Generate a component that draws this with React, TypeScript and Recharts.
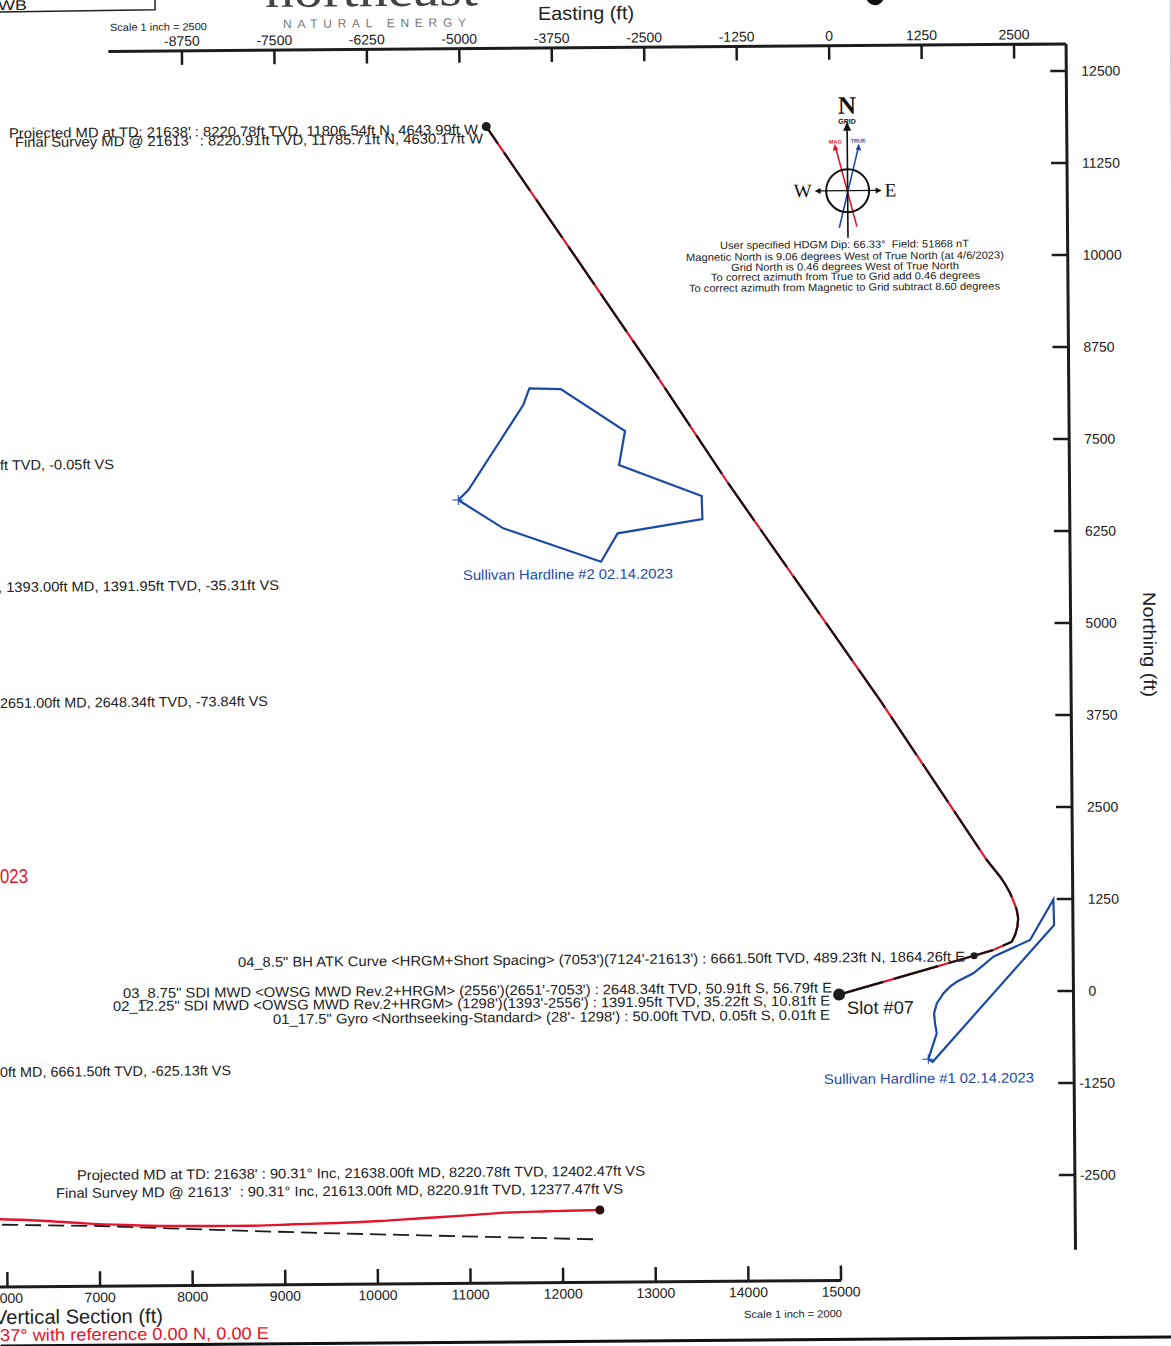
import { ComposedChart, Line, XAxis, YAxis } from "recharts";

// easting / northing ticks (ft)
const eastingTicks = [-8750, -7500, -6250, -5000, -3750, -2500, -1250, 0, 1250, 2500];
const northingTicks = [12500, 11250, 10000, 8750, 7500, 6250, 5000, 3750, 2500, 1250, 0, -1250, -2500];
const sectionTicks = [6000, 7000, 8000, 9000, 10000, 11000, 12000, 13000, 14000, 15000];

// plan view, values
const wellPlan = [
  { e: 35, n: -25 },
  { e: 1864.26, n: 489.23 },
  { e: 2125, n: 565 },
  { e: 2375, n: 675 },
  { e: 2420, n: 766 },
  { e: 2453, n: 879 },
  { e: 2464, n: 993 },
  { e: 2446, n: 1106 },
  { e: 2401, n: 1232 },
  { e: 2357, n: 1337 },
  { e: 2290, n: 1461 },
  { e: 2224, n: 1560 },
  { e: 2134, n: 1675 },
  { e: 2046, n: 1788 },
  { e: 619, n: 3973 },
  { e: -1413, n: 6938 },
  { e: -2415, n: 8481 },
  { e: -4630.17, n: 11785.71 },
  { e: -4643.99, n: 11806.54 },
];
const planMarkers = [
  { e: -4643.99, n: 11806.54, r: 4.5 },
  { e: 1864.26, n: 489.23, r: 3.5 },
  { e: 35, n: -25, r: 6 },
];
const hardline2 = [
  { e: -5061, n: 6735 },
  { e: -4924, n: 6870 },
  { e: -4173, n: 8019 },
  { e: -4089, n: 8246 },
  { e: -3664, n: 8232 },
  { e: -2800, n: 7655 },
  { e: -2884, n: 7194 },
  { e: -1770, n: 6764 },
  { e: -1763, n: 6451 },
  { e: -2910, n: 6266 },
  { e: -3138, n: 5882 },
  { e: -4455, n: 6346 },
  { e: -5061, n: 6735 },
];
const hardline1 = [
  { e: 1234, n: -913 },
  { e: 1351, n: -561 },
  { e: 1329, n: -425 },
  { e: 1317, n: -290 },
  { e: 1355, n: -154 },
  { e: 1445, n: -19 },
  { e: 1536, n: 71 },
  { e: 1627, n: 137 },
  { e: 1852, n: 250 },
  { e: 1989, n: 361 },
  { e: 2124, n: 474 },
  { e: 2623, n: 697 },
  { e: 2942, n: 1247 },
  { e: 2949, n: 898 },
  { e: 1294, n: -947 },
  { e: 1234, n: -913 },
];
const hardlineStarts = [
  { e: -5061, n: 6735 },
  { e: 1234, n: -913 },
];

// section view
const actualSection = [
  { vs: 5700, tvd: 8262 },
  { vs: 5925, tvd: 8270 },
  { vs: 6379, tvd: 8289 },
  { vs: 6833, tvd: 8321 },
  { vs: 7286, tvd: 8343 },
  { vs: 7740, tvd: 8357 },
  { vs: 8193, tvd: 8360 },
  { vs: 8647, tvd: 8361 },
  { vs: 9111, tvd: 8349 },
  { vs: 9565, tvd: 8338 },
  { vs: 10018, tvd: 8321 },
  { vs: 10470, tvd: 8295 },
  { vs: 10926, tvd: 8270 },
  { vs: 11380, tvd: 8241 },
  { vs: 11834, tvd: 8230 },
  { vs: 12377.47, tvd: 8220.91 },
  { vs: 12402.47, tvd: 8220.78 },
];
const planSection = [
  { vs: 5700, tvd: 8320 },
  { vs: 5925, tvd: 8329 },
  { vs: 7016, tvd: 8351 },
  { vs: 7740, tvd: 8382 },
  { vs: 8647, tvd: 8418 },
  { vs: 9565, tvd: 8451 },
  { vs: 10470, tvd: 8479 },
  { vs: 11380, tvd: 8507 },
  { vs: 12329, tvd: 8536 },
];
const sectionEnd = [{ vs: 12402.47, tvd: 8220.78 }];

const INK = "#1c1c1c";
const BLUE = "#1b4aa6";
const RED = "#e2152d";
const FONT = "'Liberation Sans', Arial, sans-serif";
const SERIF = "'Liberation Serif', serif";

// the page is a slightly crooked scan
const TILT = 0.0078;

const unTilt = (x: number, y: number) => ({ x: x - TILT * y, y: y + TILT * x });

// x, y are where the text starts on the page; w is its width
const Note = ({ x, y, w, size = 14, color = "#222", adjust = "spacingAndGlyphs", children }: any) => {
  const p = unTilt(x, y);
  return (
    <text x={p.x} y={p.y} textLength={w} lengthAdjust={adjust} fontSize={size} fill={color} fontFamily={FONT} style={{ whiteSpace: "pre" }}>
      {children}
    </text>
  );
};

const TopTick = ({ x, y, payload }: any) => (
  <g>
    <line x1={x} x2={x} y1={y} y2={y + 14} stroke={INK} strokeWidth={2.5} />
    <text x={x} y={y - 5} textAnchor="middle" fontSize={14} fill="#222" fontFamily={FONT}>
      {payload.value}
    </text>
  </g>
);

const RightTick = ({ x, y, payload }: any) => (
  <g>
    <line x1={x - 16} x2={x} y1={y} y2={y} stroke={INK} strokeWidth={2.5} />
    <text x={x + (payload.value < 0 ? 5 : 15)} y={y + 5} fontSize={14} fill="#222" fontFamily={FONT}>
      {payload.value}
    </text>
  </g>
);

const BottomTick = ({ x, y, payload }: any) => (
  <g>
    <line x1={x} x2={x} y1={y - 15} y2={y} stroke={INK} strokeWidth={2.5} />
    <text x={x} y={y + 16} textAnchor="middle" fontSize={14} fill="#222" fontFamily={FONT}>
      {payload.value}
    </text>
  </g>
);

const Cross = ({ cx, cy }: any) => (
  <g key={cx} stroke={BLUE} strokeWidth={1}>
    <line x1={cx - 6} x2={cx + 5} y1={cy} y2={cy} />
    <line x1={cx} x2={cx} y1={cy - 5} y2={cy + 5} />
  </g>
);

const Compass = () => {
  const p = unTilt(847.6, 190.7);
  return (
    <g transform={`translate(${p.x} ${p.y})`} fontFamily={FONT}>
      <text y={-77} textAnchor="middle" fontSize={25} fontWeight="bold" fontFamily={SERIF} fill="#111">N</text>
      <text y={-67} textAnchor="middle" fontSize={7} fontWeight="bold" fill="#111">GRID</text>
      <text x={-12} y={-47} textAnchor="middle" fontSize={5.5} fontWeight="bold" fill={RED}>MAG</text>
      <text x={11} y={-48} textAnchor="middle" fontSize={5.5} fontWeight="bold" fill={BLUE}>TRUE</text>
      <text x={-45} y={6} textAnchor="middle" fontSize={19} fontFamily={SERIF} fill="#111">W</text>
      <text x={43} y={6} textAnchor="middle" fontSize={19} fontFamily={SERIF} fill="#111">E</text>
      <line x1={-11.6} y1={-43} x2={9} y2={36} stroke={RED} strokeWidth={1.6} />
      <polygon points="-12.5,-47 -14.5,-40 -9,-41" fill={RED} />
      <line x1={11} y1={-43} x2={-8.6} y2={37} stroke={BLUE} strokeWidth={1.6} />
      <polygon points="11.5,-47 8.5,-41 14,-40" fill={BLUE} />
      <line x1={0} y1={-63} x2={0} y2={47} stroke="#111" strokeWidth={1.6} />
      <polygon points="0,-69 -4,-60 4,-60" fill="#111" />
      <line x1={-29} y1={0} x2={30} y2={0} stroke="#111" strokeWidth={1.2} />
      <polygon points="-33,0 -27,-3 -27,3" fill="#111" />
      <polygon points="34,0 28,-3 28,3" fill="#111" />
      <circle r={21.5} fill="none" stroke="#111" strokeWidth={2} />
    </g>
  );
};

const App = () => (
  <div style={{ position: "absolute", left: 0, top: 0, width: 1171, height: 1346, overflow: "hidden", background: "#fff" }}>
    <div style={{ position: "absolute", left: 0, top: 0, width: 1171, height: 1346, transformOrigin: "0 0", transform: "rotate(-0.447deg)" }}>
      {/* plan view */}
      <div style={{ position: "absolute", left: 0, top: 0 }}>
        <ComposedChart width={1171} height={1346} margin={{ top: 12, right: 55.3, bottom: 88, left: 108 }}>
          <XAxis
            xAxisId="e"
            type="number"
            dataKey="e"
            orientation="top"
            height={40.3}
            domain={[-9744, 3204]}
            allowDataOverflow
            ticks={eastingTicks}
            interval={0}
            tick={TopTick}
            tickSize={0}
            tickMargin={0}
            tickLine={false}
            axisLine={{ stroke: INK, strokeWidth: 3 }}
          />
          <YAxis
            yAxisId="n"
            type="number"
            orientation="right"
            width={50}
            domain={[-3515, 12867]}
            allowDataOverflow
            ticks={northingTicks}
            interval={0}
            tick={RightTick}
            tickSize={0}
            tickMargin={0}
            tickLine={false}
            axisLine={{ stroke: INK, strokeWidth: 3 }}
          />
          <Line xAxisId="e" yAxisId="n" data={hardline2} dataKey="n" type="linear" stroke={BLUE} strokeWidth={2.2} dot={false} isAnimationActive={false} />
          <Line xAxisId="e" yAxisId="n" data={hardline1} dataKey="n" type="linear" stroke={BLUE} strokeWidth={2.2} dot={false} isAnimationActive={false} />
          <Line xAxisId="e" yAxisId="n" data={hardlineStarts} dataKey="n" stroke="none" dot={Cross} isAnimationActive={false} />
          <Line xAxisId="e" yAxisId="n" data={wellPlan} dataKey="n" type="linear" stroke={RED} strokeWidth={2.2} dot={false} isAnimationActive={false} />
          <Line xAxisId="e" yAxisId="n" data={wellPlan} dataKey="n" type="linear" stroke="#141414" strokeWidth={2.2} strokeDasharray="46 11" dot={false} isAnimationActive={false} />
          <Line
            xAxisId="e"
            yAxisId="n"
            data={planMarkers}
            dataKey="n"
            stroke="none"
            dot={({ cx, cy, payload }: any) => <circle key={payload.e} cx={cx} cy={cy} r={payload.r} fill="#1c1c1c" />}
            isAnimationActive={false}
          />
        </ComposedChart>
      </div>

      {/* section view */}
      <div style={{ position: "absolute", left: -40, top: 1150 }}>
        <ComposedChart width={911} height={177} margin={{ top: 0, right: 40, bottom: 0, left: 0 }}>
          <XAxis
            type="number"
            dataKey="vs"
            height={40}
            domain={[5596, 15000]}
            allowDataOverflow
            ticks={sectionTicks}
            interval={0}
            tick={BottomTick}
            tickSize={0}
            tickMargin={0}
            tickLine={false}
            axisLine={{ stroke: INK, strokeWidth: 3 }}
          />
          <YAxis hide type="number" reversed domain={[7522, 9002]} allowDataOverflow />
          <Line data={planSection} dataKey="tvd" type="linear" stroke="#1c1c1c" strokeWidth={1.8} strokeDasharray="16 7" dot={false} isAnimationActive={false} />
          <Line data={actualSection} dataKey="tvd" type="monotone" stroke={RED} strokeWidth={2.4} dot={false} isAnimationActive={false} />
          <Line data={sectionEnd} dataKey="tvd" stroke="none" dot={{ r: 4, fill: "#2a0a0a", stroke: "#2a0a0a" }} isAnimationActive={false} />
        </ComposedChart>
      </div>

      {/* annotations */}
      <svg width={1171} height={1346} style={{ position: "absolute", left: 0, top: 0, overflow: "visible", pointerEvents: "none" }}>
        <path d="M -10 12 L 155 11 L 155 -10" fill="none" stroke="#222" strokeWidth={1.5} />
        <Note x={-2} y={10} w={29}>WB</Note>
        <circle cx={875} cy={3} r={9} fill="#111" />
        <text x={265} y={9} textLength={213} lengthAdjust="spacingAndGlyphs" fontSize={50} fontFamily={SERIF} fill="#444">northeast</text>
        <Note x={283} y={28} w={183} size={12} color="#777" adjust="spacing">NATURAL ENERGY</Note>
        <Note x={110} y={31} w={97} size={10.5}>Scale 1 inch = 2500</Note>
        <Note x={538} y={20} w={96} size={19}>Easting (ft)</Note>
        <text transform={`translate(${unTilt(1143, 592).x} ${unTilt(1143, 592).y}) rotate(90)`} textLength={105} lengthAdjust="spacingAndGlyphs" fontSize={18} fill="#222" fontFamily={FONT}>Northing (ft)</text>

        <Note x={9} y={138} w={469}>Projected MD at TD: 21638' : 8220.78ft TVD, 11806.54ft N, 4643.99ft W</Note>
        <Note x={15} y={147} w={468}>Final Survey MD @ 21613'  : 8220.91ft TVD, 11785.71ft N, 4630.17ft W</Note>

        <Compass />
        <Note x={720} y={249} w={249} size={10.5}>User specified HDGM Dip: 66.33°  Field: 51868 nT</Note>
        <Note x={686} y={261} w={318} size={10.5}>Magnetic North is 9.06 degrees West of True North (at 4/6/2023)</Note>
        <Note x={731} y={271} w={228} size={10.5}>Grid North is 0.46 degrees West of True North</Note>
        <Note x={711} y={281} w={269} size={10.5}>To correct azimuth from True to Grid add 0.46 degrees</Note>
        <Note x={689} y={292} w={311} size={10.5}>To correct azimuth from Magnetic to Grid subtract 8.60 degrees</Note>

        <Note x={0} y={470} w={114}>ft TVD, -0.05ft VS</Note>
        <Note x={-2} y={592} w={281}>, 1393.00ft MD, 1391.95ft TVD, -35.31ft VS</Note>
        <Note x={0} y={708} w={268}>2651.00ft MD, 2648.34ft TVD, -73.84ft VS</Note>
        <Note x={0} y={883} w={28} size={20} color={RED}>023</Note>
        <Note x={0} y={1077} w={231}>0ft MD, 6661.50ft TVD, -625.13ft VS</Note>

        <Note x={463} y={580} w={210} color={BLUE}>Sullivan Hardline #2 02.14.2023</Note>
        <Note x={824} y={1084} w={210} color={BLUE}>Sullivan Hardline #1 02.14.2023</Note>

        <Note x={238} y={967} w={727}>04_8.5" BH ATK Curve &lt;HRGM+Short Spacing&gt; (7053')(7124'-21613') : 6661.50ft TVD, 489.23ft N, 1864.26ft E</Note>
        <Note x={123} y={998} w={709}>03_8.75" SDI MWD &lt;OWSG MWD Rev.2+HRGM&gt; (2556')(2651'-7053') : 2648.34ft TVD, 50.91ft S, 56.79ft E</Note>
        <Note x={113} y={1011} w={717}>02_12.25" SDI MWD &lt;OWSG MWD Rev.2+HRGM&gt; (1298')(1393'-2556') : 1391.95ft TVD, 35.22ft S, 10.81ft E</Note>
        <Note x={273} y={1024} w={557}>01_17.5" Gyro &lt;Northseeking-Standard&gt; (28'- 1298') : 50.00ft TVD, 0.05ft S, 0.01ft E</Note>
        <Note x={847} y={1014} w={67} size={18}>Slot #07</Note>

        <Note x={77} y={1180} w={568}>Projected MD at TD: 21638' : 90.31° Inc, 21638.00ft MD, 8220.78ft TVD, 12402.47ft VS</Note>
        <Note x={56} y={1198} w={567}>Final Survey MD @ 21613'  : 90.31° Inc, 21613.00ft MD, 8220.91ft TVD, 12377.47ft VS</Note>

        <Note x={-6} y={1324} w={169} size={20}>Vertical Section (ft)</Note>
        <Note x={0} y={1341} w={269} size={17} color={RED}>37° with reference 0.00 N, 0.00 E</Note>
        <Note x={744} y={1318} w={98} size={10.5}>Scale 1 inch = 2000</Note>

        <line x1={-10} y1={1346} x2={1180} y2={1346} stroke="#111" strokeWidth={3} />
        <line x1={1170} y1={0} x2={1170} y2={1346} stroke="#ccc" strokeWidth={1} />
      </svg>
    </div>
  </div>
);

export default App;
